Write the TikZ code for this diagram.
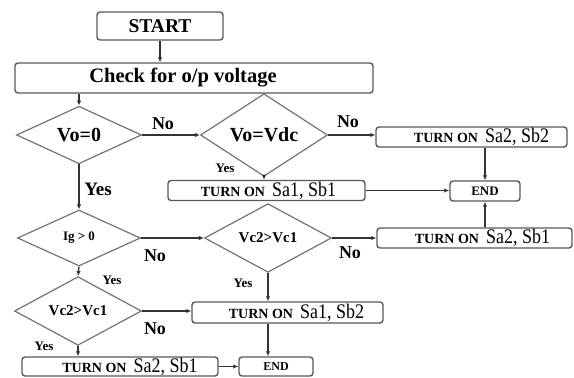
\documentclass[tikz,border=0pt]{standalone}
\usepackage{fontspec}
\setmainfont{Liberation Serif}
\usetikzlibrary{shapes.geometric,arrows.meta}
\newcommand\myturnon[2][0pt]{\hspace*{#1}{\fontsize{14}{14}\bfseries TURN ON}\hspace{7pt}\scalebox{1}[1.15]{\fontsize{18}{18}\selectfont #2}}
\tikzset{
  pbox/.style={draw=black!65, line width=1.4pt, rounded corners=3pt, fill=white, inner sep=0pt, text=black},
  dec/.style={diamond, draw=black!55, line width=1.2pt, inner sep=0pt, text=black, font=\bfseries},
  conn/.style={draw=black!80, line width=1.3pt, -{Latex[length=5pt,width=4.5pt]}},
  big/.style={font=\fontsize{18}{18}\bfseries\selectfont},
  small/.style={font=\fontsize{13}{13}\bfseries\selectfont},
}
\begin{document}
\begin{tikzpicture}[x=1pt,y=-1pt]
\useasboundingbox (0,0) rectangle (574,378);
% process boxes
\node[pbox, minimum width=126pt, minimum height=28pt, font=\fontsize{19.5}{19.5}\bfseries\selectfont] (start) at (160,26) {START};
\node[pbox, minimum width=358pt, minimum height=30pt, font=\fontsize{20.5}{20.5}\bfseries\selectfont] (check) at (194,78) {Check for o/p voltage\hspace*{22pt}};
\node[pbox, minimum width=191pt, minimum height=20pt] (b1) at (471.5,137) {\myturnon[20pt]{Sa2, Sb2}};
\node[pbox, minimum width=197pt, minimum height=20pt] (b2) at (266.5,190.5) {\myturnon[4pt]{Sa1, Sb1}};
\node[pbox, minimum width=70pt, minimum height=20pt, font=\fontsize{13}{13}\bfseries\selectfont] (end1) at (485,191) {END};
\node[pbox, minimum width=195pt, minimum height=20pt] (b3) at (474.5,238) {\myturnon[16pt]{Sa2, Sb1}};
\node[pbox, minimum width=191pt, minimum height=21pt] (b4) at (287.5,312.5) {\myturnon[18pt]{Sa1, Sb2}};
\node[pbox, minimum width=196pt, minimum height=19pt] (b5) at (120,366.5) {\myturnon[20pt]{Sa2, Sb1}};
\node[pbox, minimum width=74pt, minimum height=19pt, font=\fontsize{12}{12}\bfseries\selectfont] (end2) at (276,366.5) {END};
% decisions
\node[dec, minimum width=125pt, minimum height=56pt, font=\fontsize{20}{20}\bfseries\selectfont] (d1) at (79,135) {Vo=0};
\node[dec, minimum width=127pt, minimum height=57pt, font=\fontsize{20}{20}\bfseries\selectfont] (d2) at (264,135) {Vo=Vdc};
\node[dec, minimum width=123pt, minimum height=56pt, font=\fontsize{13}{13}\bfseries\selectfont] (d3) at (79,238) {Ig > 0};
\node[dec, minimum width=127pt, minimum height=58pt, font=\fontsize{15}{15}\bfseries\selectfont] (d4) at (268,238) {Vc2>Vc1};
\node[dec, minimum width=127pt, minimum height=55pt, font=\fontsize{15}{15}\bfseries\selectfont] (d5) at (78,311) {Vc2>Vc1};
% connectors
\draw[conn] (start.south) -- (start.south |- check.north);
\draw[conn] (d1.north |- check.south) -- (d1.north);
\draw[conn] (d1.east) -- (d2.west);
\draw[conn] (d2.east) -- (d2.east -| b1.west);
\draw[conn] (d2.south) -- (d2.south |- b2.north);
\draw[conn] (end1.north |- b1.south) -- (end1.north);
\draw[conn] (b2.east) -- (b2.east -| end1.west);
\draw[conn] (end1.south |- b3.north) -- (end1.south);
\draw[conn] (d1.south) -- (d3.north);
\draw[conn] (d3.east) -- (d4.west);
\draw[conn] (d4.east) -- (b3.west);
\draw[conn] (d4.south) -- (d4.south |- b4.north);
\draw[conn] (d4.south |- b4.south) -- (d4.south |- end2.north);
\draw[conn] (d3.south) -- (d5.north);
\draw[conn] (d5.east) -- (d5.east -| b4.west);
\draw[conn] (d5.south) -- (d5.south |- b5.north);
\draw[conn] (b5.east) -- (end2.west);
% labels
\node[big] (l1) at (163,124) {No};
\node[big] (l2) at (348,122) {No};
\node[small] (l3) at (225,168) {Yes};
\node[big, font=\fontsize{19}{19}\bfseries\selectfont] (l4) at (98,189) {Yes};
\node[big] (l5) at (155,256) {No};
\node[big] (l6) at (350,253) {No};
\node[small] (l7) at (243,283) {Yes};
\node[small] (l8) at (112,280) {Yes};
\node[big] (l9) at (155,329) {No};
\node[small] (l10) at (44,346) {Yes};
\end{tikzpicture}
\end{document}
